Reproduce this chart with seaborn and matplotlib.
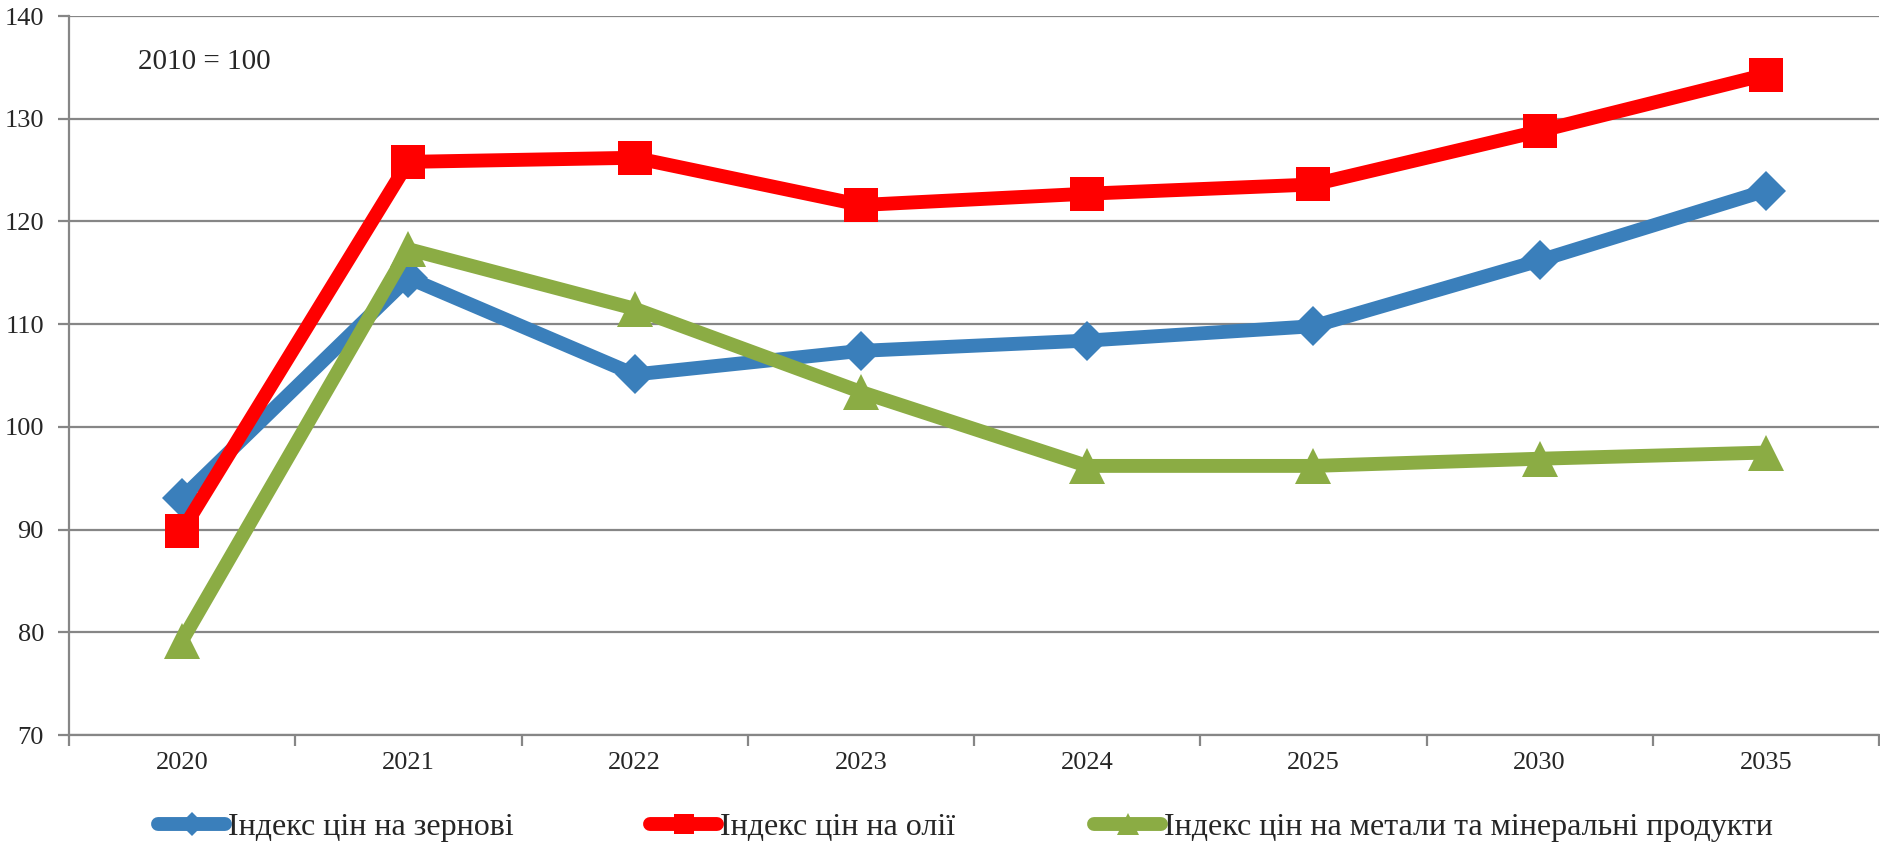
import numpy as np
import matplotlib
matplotlib.use("Agg")
import matplotlib.pyplot as plt
import pandas as pd
import seaborn as sns
from matplotlib.lines import Line2D

years = ["2020", "2021", "2022", "2023", "2024", "2025", "2030", "2035"]
grain = [93.1, 114.5, 105.1, 107.4, 108.4, 109.8, 116.2, 123.0]
oils = [89.9, 125.8, 126.2, 121.6, 122.7, 123.6, 128.8, 134.3]
metals = [79.2, 117.3, 111.5, 103.4, 96.2, 96.2, 96.9, 97.5]

labels = ["Індекс цін на зернові", "Індекс цін на олії",
          "Індекс цін на метали та мінеральні продукти"]
colors = ["#3a7fbb", "#ff0000", "#8bac44"]
markers = ["D", "s", "^"]
msizes = [20, 25, 26]

sns.set_theme(style="white")
plt.rcParams['font.family'] = ['Liberation Serif', 'DejaVu Serif']

fig = plt.figure(figsize=(18.8, 8.47), dpi=100)
ax = fig.add_axes([0.0367, 0.1322, 0.9628, 0.8489])

pos = np.arange(len(years))
for i, vals in enumerate([grain, oils, metals]):
    df = pd.DataFrame({"x": pos, "y": vals})
    sns.lineplot(data=df, x="x", y="y", ax=ax, color=colors[i], linewidth=10,
                 marker=markers[i], markersize=msizes[i], markeredgewidth=0,
                 zorder=3 + i, solid_joinstyle="miter")

ax.set_xlim(-0.5, len(years) - 0.5)
ax.set_ylim(70, 140)
ax.set_yticks(np.arange(70, 141, 10))
ax.set_xticks(pos)
ax.set_xticklabels(years)
ax.set_xticks(np.arange(-0.5, len(years), 1), minor=True)
ax.set_xlabel("")
ax.set_ylabel("")

ax.grid(axis="y", color="#868686", linewidth=1.6)
ax.grid(axis="x", visible=False)
for s in ["top", "right"]:
    ax.spines[s].set_visible(False)
for s in ["left", "bottom"]:
    ax.spines[s].set_color("#868686")
    ax.spines[s].set_linewidth(1.6)

ax.tick_params(axis="x", which="major", length=0, pad=12, labelsize=19)
ax.tick_params(axis="x", which="minor", length=8, width=1.6, color="#868686", direction="out")
ax.tick_params(axis="y", length=8, width=1.6, color="#868686", direction="out", pad=10, labelsize=19)
ax.tick_params(bottom=True, left=True, which="both")

ax.text(0.038, 0.936, "2010 = 100", transform=ax.transAxes, fontsize=21, va="center", ha="left")

leg_x = [158, 650, 1094]
for i in range(3):
    h = Line2D([], [], color=colors[i], linewidth=10, marker=markers[i], markersize=msizes[i] * 0.6,
               markeredgewidth=0)
    fig.legend(handles=[h], labels=[labels[i]], loc="center left",
               bbox_to_anchor=(leg_x[i] / 1880, 1 - 827 / 847), frameon=False,
               fontsize=23, handlelength=2.1, handletextpad=0.1, borderpad=0, borderaxespad=0)

fig.savefig("out.png", dpi=100, facecolor="white")
